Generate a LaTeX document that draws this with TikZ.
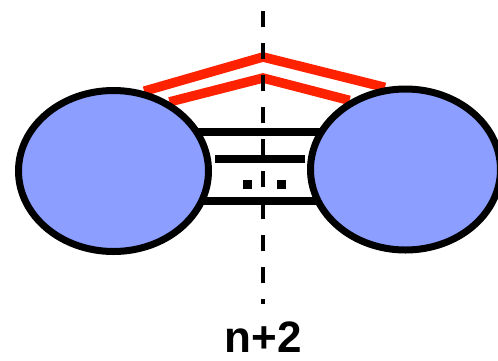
\documentclass[tikz,border=0pt]{standalone}
\usepackage{fontspec}
\setmainfont{Liberation Sans}
\usetikzlibrary{shapes.geometric,backgrounds}
\definecolor{blobblue}{RGB}{140,158,255}
\definecolor{bondred}{RGB}{255,34,0}
\begin{document}
\begin{tikzpicture}[x=1pt,y=-1pt,
  blob/.style={ellipse,draw=black,line width=7pt,fill=blobblue,minimum width=190pt,minimum height=161pt,inner sep=0pt},
  bond/.style={line width=8.5pt,draw=black},
  redbond/.style={line width=9.5pt,draw=bondred},
  axisline/.style={line width=4.5pt,draw=black,dash pattern=on 16pt off 16pt},
  dotsq/.style={fill=black,minimum size=9pt,inner sep=0pt}]
\useasboundingbox (0,0) rectangle (498,360);
\clip (0,0) rectangle (498,360);
\node[blob] (L) at (113.5,171) {};
\node[blob] (R) at (405.5,169.5) {};
\coordinate (a1) at (263,57);
\coordinate (a2) at (263,78);
\coordinate (m1) at (215,159);
\coordinate (m2) at (305,159);
\coordinate (top) at (263,11);
\coordinate (bot) at (263,304);
\begin{scope}[on background layer]
  \draw[redbond] (L.69) -- (a1) -- (R.104);
  \draw[redbond] (L.51) -- (a2) -- (R.129);
  \draw[bond] (L.center |- 0,132) -- (R.center |- 0,132);
  \draw[bond] (L.center |- 0,201) -- (R.center |- 0,201);
\end{scope}
\draw[bond] (m1) -- (m2);
\node[dotsq] (d1) at (247.5,184.5) {};
\node[dotsq] (d2) at (281,184.5) {};
\draw[axisline] (top) -- (bot);
\node[anchor=base,inner sep=0pt,text depth=0pt] (lab) at (263.5,352) {\fontsize{44}{48}\selectfont\bfseries n+2};
\end{tikzpicture}
\end{document}
